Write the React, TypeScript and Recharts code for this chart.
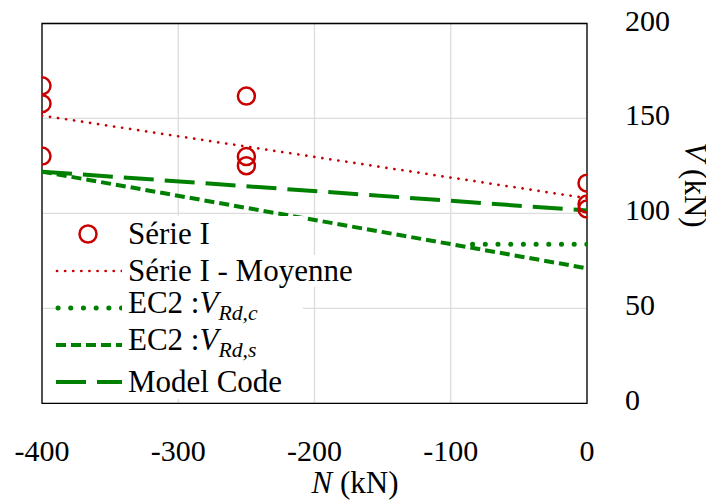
import React from "react";
import {
  ComposedChart,
  Line,
  Scatter,
  XAxis,
  YAxis,
  CartesianGrid,
  ReferenceArea,
} from "recharts";

const xTicks = [-400, -300, -200, -100, 0];
const yTicks = [0, 50, 100, 150, 200];

const serieN = [-400, -400, -400, -250, -250, -250, 0, 0, 0];
const serieV = [167.2, 157.8, 130.2, 161.8, 129.9, 125.1, 115.9, 104.9, 102.3];

const moyN = [-400, 0];
const moyV = [151.5, 108.0];

const rdcN = [-84, 0];
const rdcV = [83.7, 83.7];

const rdsN = [-400, 0];
const rdsV = [122.0, 71.1];

const mcN = [-400, 0];
const mcV = [122.0, 101.5];

const zip = (ns: number[], vs: number[]) => ns.map((n, i) => ({ n, v: vs[i] }));

const serieData = zip(serieN, serieV);
const moyData = zip(moyN, moyV);
const rdcData = zip(rdcN, rdcV);
const rdsData = zip(rdsN, rdsV);
const mcData = zip(mcN, mcV);

const RED = "#c80000";
const GREEN = "#008000";
const FONT = "Liberation Serif, DejaVu Serif";
const FS_TICK = 30;
const FS = 31;

const CircleShape = (props: any) => {
  const { cx, cy } = props;
  if (cx == null || cy == null) return null;
  return <circle cx={cx} cy={cy} r={8.5} fill="none" stroke={RED} strokeWidth={2.5} />;
};

const XTick = (props: any) => {
  const { x, y, payload } = props;
  return (
    <text x={x} y={y + 50} textAnchor="middle" style={{ fontFamily: FONT, fontSize: FS_TICK }} fill="#000">
      {payload.value}
    </text>
  );
};

const YTick = (props: any) => {
  const { x, y, payload } = props;
  return (
    <text x={x + 30} y={y + 7} textAnchor="start" style={{ fontFamily: FONT, fontSize: FS_TICK }} fill="#000">
      {payload.value}
    </text>
  );
};

const legendItems = [
  { key: "serie", label: <>Série I</> },
  { key: "moy", label: <>Série I - Moyenne</> },
  {
    key: "rdc",
    label: (
      <>
        EC2 :<i>V</i>
        <sub style={{ fontSize: "0.7em" }}>
          <i>Rd,c</i>
        </sub>
      </>
    ),
  },
  {
    key: "rds",
    label: (
      <>
        EC2 :<i>V</i>
        <sub style={{ fontSize: "0.7em" }}>
          <i>Rd,s</i>
        </sub>
      </>
    ),
  },
  { key: "mc", label: <>Model Code</> },
];

const LegendSymbol = ({ k }: { k: string }) => {
  const w = 67;
  const h = 20;
  const y = h / 2;
  let el: React.ReactNode = null;
  if (k === "serie") el = <circle cx={33} cy={y} r={8.5} fill="none" stroke={RED} strokeWidth={2.5} />;
  if (k === "moy")
    el = <line x1={2} x2={w} y1={y} y2={y} stroke={RED} strokeWidth={2.7} strokeDasharray="0.1 8" strokeLinecap="round" />;
  if (k === "rdc")
    el = <line x1={3} x2={w} y1={y} y2={y} stroke={GREEN} strokeWidth={5} strokeDasharray="0.1 12.6" strokeLinecap="round" />;
  if (k === "rds")
    el = <line x1={1} x2={w} y1={y} y2={y} stroke={GREEN} strokeWidth={4} strokeDasharray="10 5" />;
  if (k === "mc")
    el = <line x1={1} x2={w} y1={y} y2={y} stroke={GREEN} strokeWidth={4} strokeDasharray="30 11" />;
  return (
    <svg width={w} height={h} style={{ display: "block", flexShrink: 0 }}>
      {el}
    </svg>
  );
};

const LegendBox = () => (
  <div
    style={{
      position: "absolute",
      left: 55,
      top: 216,
      background: "#fff",
      width: 248,
      height: 183,
      boxSizing: "border-box",
      paddingTop: 0,
      fontFamily: FONT,
      fontSize: FS,
      color: "#000",
      overflow: "visible",
    }}
  >
    {legendItems.map((it) => (
      <div key={it.key} style={{ display: "flex", alignItems: "center", height: 36.8, lineHeight: "32px", width: 248 }}>
        <LegendSymbol k={it.key} />
        <span style={{ marginLeft: 6, whiteSpace: "nowrap", background: "#fff", flexShrink: 0 }}>{it.label}</span>
      </div>
    ))}
  </div>
);

export default function App() {
  return (
    <div style={{ position: "relative", width: 714, height: 502, marginTop: -8, marginLeft: -8 }}>
      <ComposedChart
        width={714}
        height={502}
        margin={{ top: 23.5, right: 27, left: 42, bottom: 8.7 }}
      >
        <CartesianGrid stroke="#dcdcdc" strokeWidth={1.3} />
        <XAxis
          dataKey="n"
          type="number"
          domain={[-400, 0]}
          ticks={xTicks}
          allowDataOverflow
          height={90}
          tick={<XTick />}
          tickLine={false}
          axisLine={false}
        />
        <YAxis
          dataKey="v"
          type="number"
          orientation="right"
          domain={[0, 200]}
          ticks={yTicks}
          allowDataOverflow
          width={100}
          tick={<YTick />}
          tickLine={false}
          axisLine={false}
        />
        <ReferenceArea x1={-400} x2={0} y1={0} y2={200} fill="none" stroke="#000" strokeWidth={1.3} ifOverflow="visible" />
        <Line data={moyData} dataKey="v" stroke={RED} strokeWidth={2.7} strokeDasharray="0.1 8" strokeLinecap="round" dot={false} isAnimationActive={false} />
        <Line data={mcData} dataKey="v" stroke={GREEN} strokeWidth={4} strokeDasharray="30 11" dot={false} isAnimationActive={false} />
        <Line data={rdsData} dataKey="v" stroke={GREEN} strokeWidth={4} strokeDasharray="10 5" dot={false} isAnimationActive={false} />
        <Line data={rdcData} dataKey="v" stroke={GREEN} strokeWidth={5} strokeDasharray="0.1 12.6" strokeLinecap="round" dot={false} isAnimationActive={false} />
        <Scatter data={serieData} dataKey="v" shape={<CircleShape />} isAnimationActive={false} />
      </ComposedChart>
      <LegendBox />
      <div
        style={{
          position: "absolute",
          left: 255,
          top: 465,
          width: 200,
          textAlign: "center",
          fontFamily: FONT,
          fontSize: FS,
          lineHeight: "36px",
          whiteSpace: "nowrap",
        }}
      >
        <i>N</i> (kN)
      </div>
      <div
        style={{
          position: "absolute",
          left: 595,
          top: 167,
          width: 200,
          height: 36,
          textAlign: "center",
          fontFamily: FONT,
          fontSize: FS,
          lineHeight: "36px",
          whiteSpace: "nowrap",
          transform: "rotate(90deg)",
          transformOrigin: "100px 18px",
        }}
      >
        <i>V</i> (kN)
      </div>
    </div>
  );
}
